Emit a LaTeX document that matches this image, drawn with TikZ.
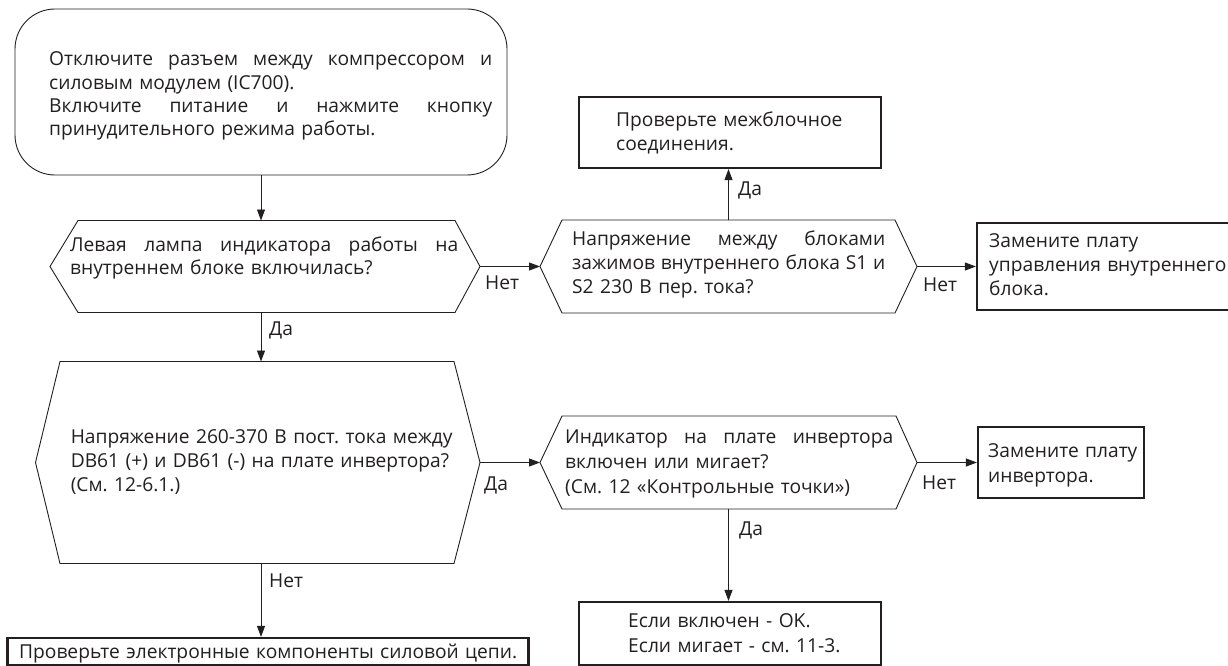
\documentclass[tikz,border=0pt]{standalone}
\usepackage{fontspec}
\setmainfont{Open Sans}
\usetikzlibrary{arrows.meta}
\definecolor{linec}{HTML}{231F20}
\newcommand{\jline}[2]{\makebox[#1][s]{\spaceskip=0pt\xspaceskip=0pt\relax #2}}
\frenchspacing
\begin{document}
\begin{tikzpicture}[x=1pt,y=-1pt,
  conn/.style={draw=linec, line width=0.9pt, -{Triangle[length=11pt,width=8pt]}},
  shapebox/.style={rectangle, inner sep=0pt, outer sep=0pt},
  startbox/.style={shapebox, draw=linec, line width=0.9pt, rounded corners=40pt},
  resbox/.style={rectangle, inner sep=0pt, draw=linec, line width=2.2pt},
  hexline/.style={draw=linec, line width=0.9pt},
  txt/.style={anchor=base west, inner sep=0pt, text width=#1, text=linec, font=\fontsize{19.2}{24}\selectfont},
  lab/.style={anchor=base west, inner sep=0pt, text=linec, font=\fontsize{19.2}{24}\selectfont}]
\clip (0,0) rectangle (1228,666);
\useasboundingbox (0,0) rectangle (1228,666);
\fill[white] (0,0) rectangle (1228,666);

% shapes
\node[startbox, minimum width=492pt, minimum height=166pt] (start) at (261,92) {};
\node[shapebox, minimum width=430pt, minimum height=92pt] (d1) at (265,266.5) {};
\node[shapebox, minimum width=377pt, minimum height=93pt] (d2) at (728.5,266.5) {};
\node[shapebox, minimum width=444.5pt, minimum height=202pt] (d3) at (257.75,462.5) {};
\node[shapebox, minimum width=377pt, minimum height=93pt] (d4) at (728.5,462.5) {};
\node[resbox, minimum width=302pt, minimum height=71pt] (topbox) at (730,132.5) {};
\node[resbox, minimum width=263pt, minimum height=87pt] (r1) at (1108.5,266.5) {};
\node[resbox, minimum width=166pt, minimum height=71pt] (r2) at (1061,462.5) {};
\node[resbox, minimum width=521pt, minimum height=27pt] (bl) at (268,651.5) {};
\node[resbox, minimum width=302pt, minimum height=63pt] (br) at (730,633.5) {};

% hexagon outlines
\draw[hexline] (d1.west) -- ([xshift=28pt]d1.north west) -- ([xshift=-25pt]d1.north east) -- (d1.east)
  -- ([xshift=-25pt]d1.south east) -- ([xshift=28pt]d1.south west) -- cycle;
\draw[hexline] (d2.west) -- ([xshift=22pt]d2.north west) -- ([xshift=-22pt]d2.north east) -- (d2.east)
  -- ([xshift=-22pt]d2.south east) -- ([xshift=22pt]d2.south west) -- cycle;
\draw[hexline] (d3.west) -- ([xshift=24.5pt]d3.north west) -- ([xshift=-26pt]d3.north east) -- (d3.east)
  -- ([xshift=-26pt]d3.south east) -- ([xshift=24.5pt]d3.south west) -- cycle;
\draw[hexline] (d4.west) -- ([xshift=22pt]d4.north west) -- ([xshift=-21pt]d4.north east) -- (d4.east)
  -- ([xshift=-21pt]d4.south east) -- ([xshift=22pt]d4.south west) -- cycle;

% texts
\node[txt=450pt, font=\fontsize{19.2}{23.3}\selectfont] (t0) at (49,66)
  {\jline{443pt}{Отключите разъем между компрессором и}\\
   \mbox{силовым модулем (IC700).}\\
   \jline{443pt}{Включите питание и нажмите кнопку}\\
   \mbox{принудительного режима работы.}};
\node[txt=395pt, font=\fontsize{19.2}{23}\selectfont] (t1) at (70,251)
  {\jline{388pt}{Левая лампа индикатора работы на}\\
   \mbox{внутреннем блоке включилась?}};
\node[txt=320pt] (t2) at (572,245)
  {\jline{313pt}{Напряжение между блоками}\\
   \jline{313pt}{зажимов внутреннего блока S1 и}\\
   \mbox{S2 230 В пер. тока?}};
\node[txt=420pt] (t3) at (70.6,443)
  {\mbox{Напряжение 260-370 В пост. тока между}\\
   \mbox{DB61 (+) и DB61 (-) на плате инвертора?}\\
   \mbox{(См. 12-6.1.)}};
\node[txt=335pt, font=\fontsize{19.2}{25}\selectfont] (t4) at (565,443)
  {\jline{328pt}{Индикатор на плате инвертора}\\
   \mbox{включен или мигает?}\\
   \mbox{(См. 12 «Контрольные точки»)}};
\node[txt=260pt] (ttop) at (616,127)
  {\mbox{Проверьте межблочное}\\ \mbox{соединения.}};
\node[txt=240pt] (tr1) at (989,247)
  {\mbox{Замените плату}\\ \mbox{управления внутреннего}\\ \mbox{блока.}};
\node[txt=150pt, font=\fontsize{19.2}{25}\selectfont] (tr2) at (988,457)
  {\mbox{Замените плату}\\ \mbox{инвертора.}};
\node[txt=510pt] (tbl) at (19,658)
  {\mbox{Проверьте электронные компоненты силовой цепи.}};
\node[txt=250pt, font=\fontsize{19.2}{25}\selectfont] (tbr) at (628,627)
  {\mbox{Если включен - OK.}\\ \mbox{Если мигает - см. 11-3.}};

% connectors
\draw[conn] (start.south) -- (start.south |- d1.north);
\draw[conn] (d1.east) -- (d2.west);
\draw[conn] (d2.north) -- (d2.north |- topbox.south);
\draw[conn] (d2.east) -- (r1.west);
\draw[conn] (start.south |- d1.south) -- (start.south |- d3.north);
\draw[conn] (d3.east) -- (d4.west);
\draw[conn] (start.south |- d3.south) -- (start.south |- bl.north);
\draw[conn] (d4.east) -- (r2.west);
\draw[conn] (d4.south) -- (d4.south |- br.north);

% labels
\node[lab] (l1) at (485,289) {Нет};
\node[lab] (l2) at (738,195) {Да};
\node[lab] (l3) at (923,291) {Нет};
\node[lab] (l4) at (269,335) {Да};
\node[lab] (l5) at (484,490) {Да};
\node[lab] (l6) at (269,587) {Нет};
\node[lab] (l7) at (922,489) {Нет};
\node[lab] (l8) at (739,535) {Да};
\end{tikzpicture}
\end{document}
